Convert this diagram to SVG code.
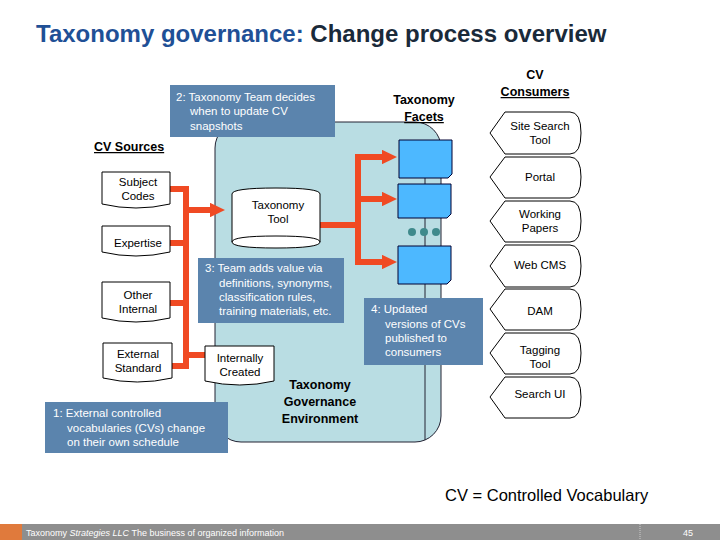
<svg xmlns="http://www.w3.org/2000/svg" width="720" height="540" viewBox="0 0 720 540">
<style>
text{font-family:"Liberation Sans",Arial,sans-serif}
.c{fill:#5b84ad}
.ct{fill:#fff;font-size:11.5px}
.n{font-size:11.5px;text-anchor:middle;fill:#000}
.b{font-weight:bold;font-size:12.5px;text-anchor:middle}
.doc{fill:#fff;stroke:#000;stroke-width:1}
.r{stroke:#f04a23;stroke-width:6;fill:none}
.fc{fill:#4db8ff;stroke:#003;stroke-width:1}
.cons{fill:#fff;stroke:#000;stroke-width:1}
</style>
<defs>
<marker id="ah" markerWidth="2.5" markerHeight="2.4" refX="0" refY="1.2" orient="auto" markerUnits="strokeWidth"><path d="M0,0L2.5,1.2L0,2.4z" fill="#f04a23"/></marker>
</defs>
<rect width="720" height="540" fill="#fff"/>
<text x="36" y="42" font-size="24" font-weight="bold" fill="#1f5096">Taxonomy governance: <tspan fill="#1a2a3a">Change process overview</tspan></text>

<g id="env">
<rect x="215" y="122" width="226" height="320" rx="26" fill="#b9dde3" stroke="#223" stroke-width="1"/>
<text class="b" x="320" y="389" font-size="13">Taxonomy</text>
<text class="b" x="320" y="406" font-size="13">Governance</text>
<text class="b" x="320" y="423" font-size="13">Environment</text>
</g>

<g id="facet-line"><line x1="425" y1="140" x2="425" y2="440" stroke="#223" stroke-width="1"/></g>

<g id="connectors">
<path class="r" d="M170,189H186M170,243H186M170,303H186M172,366H186M186,186V369M186,355H205"/>
<path class="r" d="M186,210H210" marker-end="url(#ah)"/>
<path class="r" d="M320,225H358M358,154V265"/>
<path class="r" d="M358,157H382" marker-end="url(#ah)"/>
<path class="r" d="M358,199H382" marker-end="url(#ah)"/>
<path class="r" d="M358,262H382" marker-end="url(#ah)"/>
</g>

<g id="callout2"><rect class="c" x="170" y="85" width="165" height="52"/>
<text class="ct" x="176" y="101">2: Taxonomy Team decides</text><text class="ct" x="190" y="115">when to update CV</text><text class="ct" x="190" y="130">snapshots</text></g>

<g id="cvsources"><text x="94" y="151" font-size="12.5" font-weight="bold" text-decoration="underline">CV Sources</text></g>

<g id="subject"><path class="doc" d="M102,172H170V204Q136,212 102,204Z"/><text class="n" x="138" y="186">Subject</text><text class="n" x="138" y="200">Codes</text></g>
<g id="expertise"><path class="doc" d="M102,226H170V252Q136,260 102,252Z"/><text class="n" x="138" y="247">Expertise</text></g>
<g id="other"><path class="doc" d="M102,282H170V318Q136,326 102,318Z"/><text class="n" x="138" y="299">Other</text><text class="n" x="138" y="313">Internal</text></g>
<g id="external"><path class="doc" d="M103,343H172V378Q137,386 103,378Z"/><text class="n" x="138" y="358">External</text><text class="n" x="138" y="372">Standard</text></g>
<g id="internally"><path class="doc" d="M205,346H274V381Q240,389 205,381Z"/><text class="n" x="240" y="362">Internally</text><text class="n" x="240" y="376">Created</text></g>

<g id="tool"><path class="doc" d="M232,194Q232,188 276,188Q320,188 320,194V242Q320,248 276,248Q232,248 232,242Z"/><path d="M232,242Q232,236 276,236Q320,236 320,242" fill="none" stroke="#000"/><text class="n" x="278" y="209">Taxonomy</text><text class="n" x="278" y="223">Tool</text></g>

<g id="callout3"><rect class="c" x="198" y="258" width="146" height="65"/>
<text class="ct" x="205" y="272">3: Team adds value via</text><text class="ct" x="219" y="287">definitions, synonyms,</text><text class="ct" x="219" y="301">classification rules,</text><text class="ct" x="219" y="315">training materials, etc.</text></g>

<g id="callout1"><rect class="c" x="45" y="402" width="183" height="51"/>
<text class="ct" x="53" y="417">1: External controlled</text><text class="ct" x="67" y="432">vocabularies (CVs) change</text><text class="ct" x="67" y="446">on their own schedule</text></g>

<g id="facets-title"><text class="b" x="424" y="104">Taxonomy</text><text class="b" x="424" y="121" text-decoration="underline">Facets</text></g>
<g id="facet1"><path class="fc" d="M399,140H452V174L448,178H399Z"/></g>
<g id="facet2"><path class="fc" d="M398,184H451V214L447,218H398Z"/></g>
<g id="dots" fill="#3f8a8c"><circle cx="412" cy="232" r="4"/><circle cx="424" cy="232" r="4"/><circle cx="436" cy="232" r="4"/></g>
<g id="facet3"><path class="fc" d="M398,246H451V280L447,284H398Z"/></g>

<g id="callout4"><rect class="c" x="364" y="298" width="119" height="67"/>
<text class="ct" x="371" y="313">4: Updated</text><text class="ct" x="385" y="328">versions of CVs</text><text class="ct" x="385" y="342">published to</text><text class="ct" x="385" y="356">consumers</text></g>

<g id="consumers-title"><text class="b" x="535" y="79">CV</text><text class="b" x="535" y="96" text-decoration="underline">Consumers</text></g>
<g id="c1"><path class="cons" d="M505,112H570Q581,112 581,133Q581,154 570,154H505L490,133Z"/><text class="n" x="540" y="130">Site Search</text><text class="n" x="540" y="144">Tool</text></g>
<g id="c2"><path class="cons" d="M505,157H570Q581,157 581,177Q581,198 570,198H505L490,177Z"/><text class="n" x="540" y="181">Portal</text></g>
<g id="c3"><path class="cons" d="M505,201H570Q581,201 581,221Q581,242 570,242H505L490,221Z"/><text class="n" x="540" y="218">Working</text><text class="n" x="540" y="232">Papers</text></g>
<g id="c4"><path class="cons" d="M505,245H570Q581,245 581,266Q581,287 570,287H505L490,266Z"/><text class="n" x="540" y="269">Web CMS</text></g>
<g id="c5"><path class="cons" d="M505,289H570Q581,289 581,309Q581,330 570,330H505L490,309Z"/><text class="n" x="540" y="315">DAM</text></g>
<g id="c6"><path class="cons" d="M505,333H570Q581,333 581,353Q581,374 570,374H505L490,353Z"/><text class="n" x="540" y="354">Tagging</text><text class="n" x="540" y="368">Tool</text></g>
<g id="c7"><path class="cons" d="M505,377H570Q581,377 581,397Q581,418 570,418H505L490,397Z"/><text class="n" x="540" y="398">Search UI</text></g>

<text x="445" y="501" font-size="16.5" fill="#000">CV = Controlled Vocabulary</text>

<g id="footer">
<rect x="0" y="524" width="720" height="16" fill="#8e8e8e"/>
<rect x="0" y="524" width="22" height="16" fill="#e07a3c"/>
<line x1="640" y1="524" x2="640" y2="540" stroke="#ccc" stroke-dasharray="1,1"/>
<text x="26" y="536" font-size="9" fill="#fff">Taxonomy <tspan font-style="italic">Strategies LLC</tspan> The business of organized information</text>
<text x="683" y="536" font-size="9" fill="#fff">45</text>
</g>
</svg>
